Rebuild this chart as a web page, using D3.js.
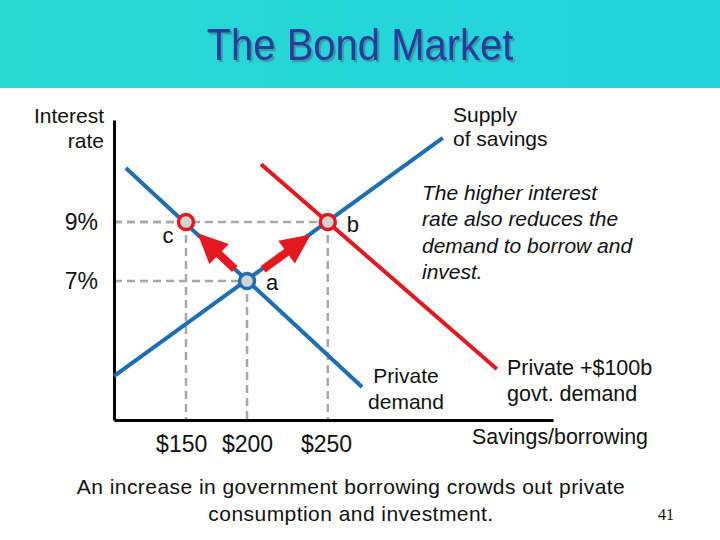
<!DOCTYPE html>
<html>
<head>
<meta charset="utf-8">
<script src="https://cdn.jsdelivr.net/npm/d3@7"></script>
<style>
  body { margin: 0; background: #fff; }
  svg { display: block; font-family: "Liberation Sans", Arial, sans-serif; }
</style>
</head>
<body>
<svg id="chart" width="720" height="540"></svg>
<script>
// curves as [quantity, interest rate] end points (quantity in arbitrary units)
const supplyLine = [[0, 3.78], [74.9, 11.85]]
const privateDemand = [[2.7, 10.83], [56.5, 3.41]]
const totalDemand = [[33.5, 10.96], [87.2, 4.02]]

const pointNames = ["c", "a", "b"]
const pointQty = [16.4, 30.3, 48.7]
const pointRate = [9, 7, 9]
const pointColors = ["#e3191f", "#1c6fb3", "#e3191f"]

const moves = [["a", "c"], ["a", "b"]]

const qtyTicks = [15.3, 30.3, 48.3]
const qtyTickLabels = ["$150", "$200", "$250"]
const rateTicks = [9, 7]
const rateTickLabels = ["9%", "7%"]

const blue = "#1c6fb3"
const red = "#e3191f"

const svg = d3.select("#chart")

// title bar
const defs = svg.append("defs")
const grad = defs.append("linearGradient").attr("id", "bar")
grad.append("stop").attr("offset", "0%").attr("stop-color", "#28d9d2")
grad.append("stop").attr("offset", "100%").attr("stop-color", "#22d3dd")
defs.append("filter").attr("id", "shadow")
    .attr("x", "-10%").attr("y", "-20%").attr("width", "120%").attr("height", "140%")
  .append("feDropShadow")
    .attr("dx", 2).attr("dy", 2).attr("stdDeviation", 0.6)
    .attr("flood-color", "#3d6f86").attr("flood-opacity", 0.55)
svg.append("rect").attr("width", 720).attr("height", 88).attr("fill", "url(#bar)")
svg.append("text")
    .attr("x", 360).attr("y", 60)
    .attr("text-anchor", "middle")
    .attr("font-size", 40)
    .attr("fill", "#2b3a9c")
    .attr("filter", "url(#shadow)")
    .attr("transform", "translate(0,-6) scale(1,1.1)")
    .text("The Bond Market")

const x = d3.scaleLinear().domain([0, 100]).range([114, 553])
const y = d3.scaleLinear().domain([2.29, 12.46]).range([420, 120])

const pts = pointNames.map((n, i) => ({name: n, q: pointQty[i], r: pointRate[i], color: pointColors[i]}))
const byName = Object.fromEntries(pts.map(p => [p.name, p]))

// dashed guides
const guides = svg.append("g")
    .attr("stroke", "#a8a8a8").attr("stroke-width", 2.5)
    .attr("stroke-dasharray", "8,5").attr("fill", "none")
pts.forEach(p => {
  guides.append("line")
    .attr("x1", x(0)).attr("x2", x(p.q))
    .attr("y1", y(p.r)).attr("y2", y(p.r))
  guides.append("line")
    .attr("x1", x(p.q)).attr("x2", x(p.q))
    .attr("y1", y(p.r)).attr("y2", y.range()[0])
})

// axes
const xAxis = svg.append("g")
    .attr("transform", "translate(0," + y.range()[0] + ")")
    .call(d3.axisBottom(x).tickValues(qtyTicks)
      .tickFormat((d, i) => qtyTickLabels[i])
      .tickSize(0).tickPadding(16))
const yAxis = svg.append("g")
    .attr("transform", "translate(" + x(0) + ",0)")
    .call(d3.axisLeft(y).tickValues(rateTicks)
      .tickFormat((d, i) => rateTickLabels[i])
      .tickSize(0).tickPadding(16))
;[xAxis, yAxis].forEach(g => {
  g.select(".domain").attr("stroke", "#000").attr("stroke-width", 3)
  g.selectAll("text").attr("fill", "#111")
    .attr("font-family", "'Liberation Sans', Arial, sans-serif")
})
xAxis.selectAll("text").attr("font-size", 23)
yAxis.selectAll("text").attr("font-size", 23)

// curves
const line = d3.line().x(d => x(d[0])).y(d => y(d[1]))
svg.append("path").datum(supplyLine).attr("d", line)
    .attr("stroke", blue).attr("stroke-width", 4).attr("fill", "none")
svg.append("path").datum(privateDemand).attr("d", line)
    .attr("stroke", blue).attr("stroke-width", 4).attr("fill", "none")
svg.append("path").datum(totalDemand).attr("d", line)
    .attr("stroke", red).attr("stroke-width", 4).attr("fill", "none")

// arrows from a to c and b
moves.forEach(([from, to], i) => {
  const a = byName[from], b = byName[to]
  const x0 = x(a.q), y0 = y(a.r), x1 = x(b.q), y1 = y(b.r)
  const len = Math.hypot(x1 - x0, y1 - y0)
  const ux = (x1 - x0) / len, uy = (y1 - y0) / len
  const nx = -uy, ny = ux
  const startOff = i == 0 ? 17 : 20
  const tipOff = i == 0 ? 16 : 21
  const sx = x0 + ux * startOff, sy = y0 + uy * startOff
  const tx = x1 - ux * tipOff, ty = y1 - uy * tipOff
  const headLen = 30, headW = 14, shaftW = 4
  const bx = tx - ux * headLen, by = ty - uy * headLen
  const p = [
    [sx + nx * shaftW, sy + ny * shaftW],
    [bx + nx * shaftW, by + ny * shaftW],
    [bx + nx * headW, by + ny * headW],
    [tx, ty],
    [bx - nx * headW, by - ny * headW],
    [bx - nx * shaftW, by - ny * shaftW],
    [sx - nx * shaftW, sy - ny * shaftW]
  ]
  svg.append("path")
    .attr("d", "M" + p.map(d => d.join(",")).join("L") + "Z")
    .attr("fill", red)
})

// equilibrium points
svg.selectAll("circle.pt")
  .data(pts)
  .enter()
  .append("circle")
    .attr("class", "pt")
    .attr("cx", d => x(d.q))
    .attr("cy", d => y(d.r))
    .attr("r", 7.5)
    .attr("fill", "#d4d4d4")
    .attr("stroke", d => d.color)
    .attr("stroke-width", 3.5)

const labelOffset = {c: [-18, 21], a: [25, 9], b: [25, 10]}
svg.selectAll("text.pt")
  .data(pts)
  .enter()
  .append("text")
    .attr("class", "pt")
    .attr("x", d => x(d.q) + labelOffset[d.name][0])
    .attr("y", d => y(d.r) + labelOffset[d.name][1])
    .attr("text-anchor", "middle")
    .attr("font-size", 22)
    .attr("fill", "#111")
    .text(d => d.name)

// text blocks
function block(lines, xPos, yPos, opts) {
  const lh = opts.lh || 0
  const t = svg.append("text")
    .attr("font-size", opts.size)
    .attr("text-anchor", opts.anchor || "start")
    .attr("font-style", opts.style || "normal")
    .attr("font-family", opts.family || null)
    .attr("letter-spacing", opts.spacing || null)
    .attr("fill", "#111")
  lines.forEach((s, i) => {
    t.append("tspan").attr("x", xPos).attr("y", yPos + i * lh).text(s)
  })
}

block(["Interest", "rate"], 104, 123, {size: 21, anchor: "end", lh: 25})
block(["Supply", "of savings"], 453, 122, {size: 21, lh: 24})
block(["The higher interest", "rate also reduces the", "demand to borrow and", "invest."],
  422, 200, {size: 21, style: "italic", lh: 26.3})
block(["Private", "demand"], 406, 383, {size: 21, anchor: "middle", lh: 26})
block(["Private +$100b", "govt. demand"], 507, 375, {size: 21.5, lh: 26})
block(["Savings/borrowing"], 472, 444, {size: 21.4})
block(["An increase in government borrowing crowds out private",
  "consumption and investment."], 351, 494, {size: 21, anchor: "middle", lh: 26.5, spacing: 0.45})
block(["41"], 666, 520, {size: 16, anchor: "middle", family: "'Liberation Serif', serif"})
</script>
</body>
</html>
